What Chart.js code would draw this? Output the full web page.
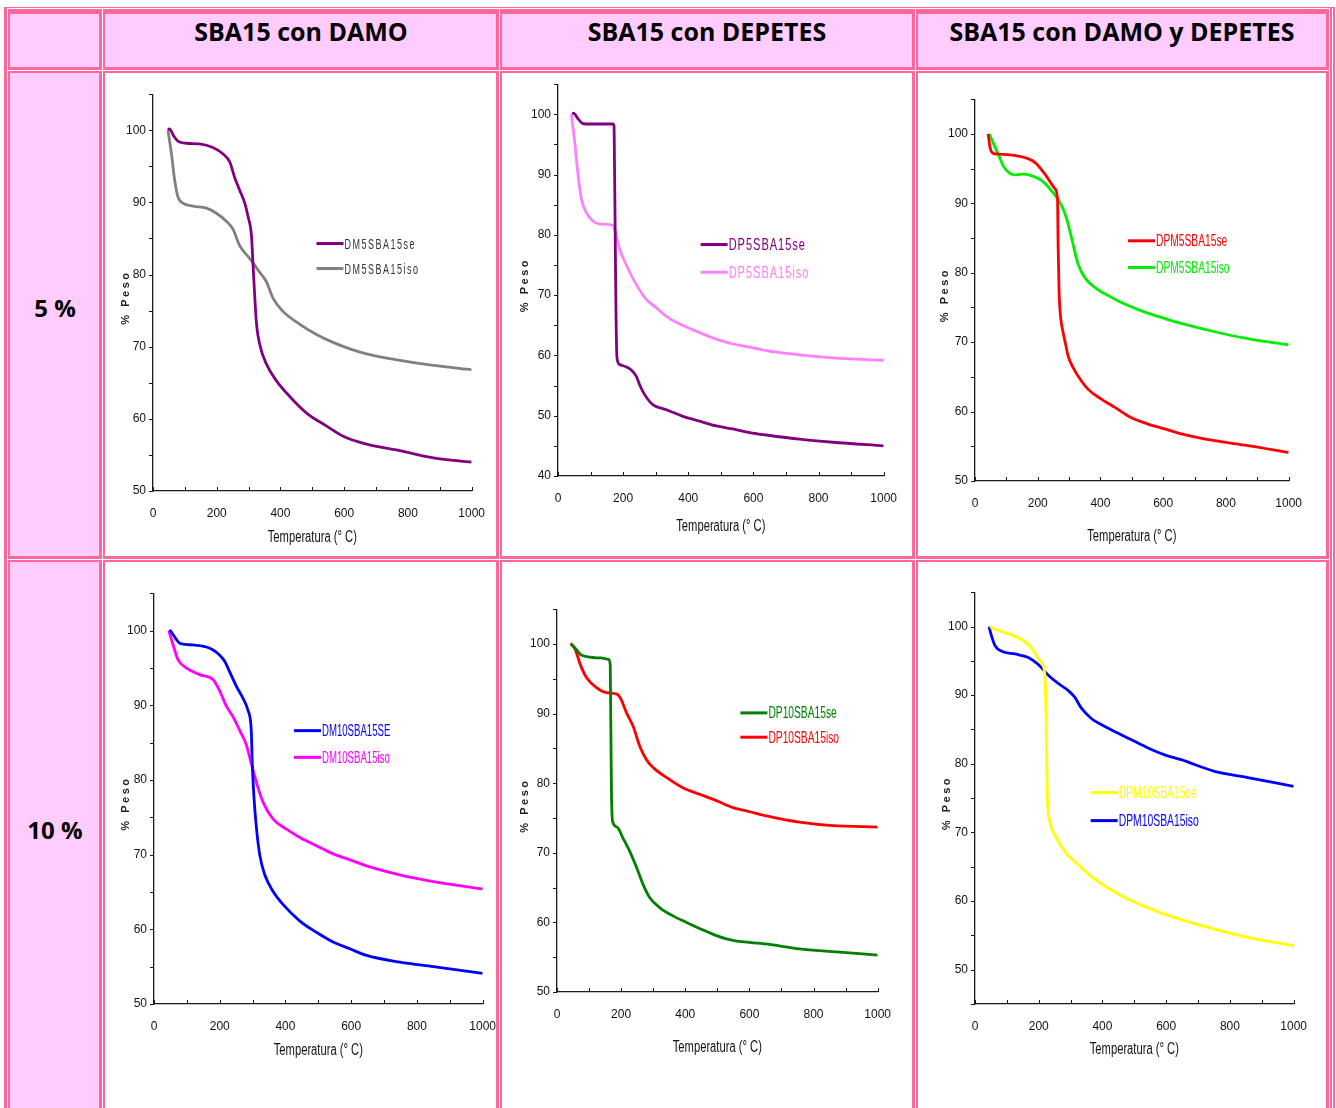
<!DOCTYPE html>
<html>
<head>
<meta charset="utf-8">
<script src="https://cdn.jsdelivr.net/npm/chart.js@4.4.0/dist/chart.umd.min.js"></script>
<style>
  html, body { margin: 0; padding: 0; background: #fff; width: 1336px; height: 1108px; overflow: hidden; }
  #marco { position: absolute; left: 4px; top: 7px; width: 1331px; height: 1110px; background: #ff6699; }
  .celda { position: absolute; box-sizing: border-box; border-left: 1px solid #fff; border-top: 1px solid #fff; }
  .relleno { position: absolute; left: 2px; top: 2px; right: 3px; bottom: 3px; }
  .rosa { background: #ffccff; }
  .blanco { background: #fff; }
  .linea { position: absolute; background: #fff; }
  .titulo { position: absolute; font-family: "Open Sans", sans-serif; font-weight: 700; font-size: 25px; color: #000; text-align: center; line-height: 26px; height: 26px; }
  canvas { position: absolute; }
</style>
</head>
<body>
<div id="marco"></div>
<script>
// Temperatura (°C) y % Peso, por muestra
const t_dm5_se = [47, 52, 65, 78, 105, 146, 188, 220, 241, 256, 272, 288, 298, 309, 314, 319, 325, 335, 356, 387, 429, 482, 545, 597, 670, 775, 880, 1000];
const p_dm5_se = [100, 100.2, 99.2, 98.5, 98.2, 98.1, 97.6, 96.7, 95.6, 93.5, 91.7, 89.9, 88.1, 85.4, 81.3, 77.2, 73.1, 70.3, 67.6, 65.3, 63.1, 60.8, 59.0, 57.6, 56.5, 55.6, 54.6, 54.0];
const t_dm5_iso = [47, 58, 68, 78, 94, 126, 168, 199, 230, 251, 272, 304, 335, 356, 377, 408, 461, 513, 565, 618, 670, 775, 880, 1000];
const p_dm5_iso = [100, 96.7, 93.1, 90.8, 89.9, 89.5, 89.2, 88.5, 87.4, 86.3, 84.0, 82.2, 80.3, 79.0, 76.7, 74.9, 73.1, 71.7, 70.6, 69.7, 69.0, 68.1, 67.4, 66.8];

const t_dp5_se = [44, 48, 61, 75, 87, 128, 169, 172, 174, 176, 178, 181, 189, 210, 225, 241, 251, 266, 292, 333, 384, 435, 486, 537, 589, 640, 742, 844, 1000];
const p_dp5_se = [100, 100.2, 99.3, 98.5, 98.4, 98.4, 98.4, 98.1, 89.1, 78.2, 67.4, 59.7, 58.5, 58.1, 57.6, 56.5, 55.1, 53.5, 51.8, 51.0, 49.9, 49.1, 48.3, 47.8, 47.2, 46.8, 46.1, 45.6, 45.0];
const t_dp5_iso = [41, 51, 61, 72, 87, 107, 128, 169, 174, 189, 210, 241, 271, 302, 333, 374, 435, 486, 537, 589, 640, 742, 844, 1000];
const p_dp5_iso = [100, 95.6, 90.2, 85.9, 83.7, 82.3, 81.8, 81.6, 81.0, 77.7, 75.0, 71.7, 69.3, 67.9, 66.5, 65.2, 63.8, 62.7, 61.9, 61.4, 60.8, 60.1, 59.6, 59.2];

const t_dpm5_se = [42, 48, 58, 74, 127, 159, 191, 223, 244, 255, 263, 265, 268, 273, 280, 288, 297, 312, 329, 361, 403, 446, 499, 552, 605, 658, 764, 870, 1000];
const p_dpm5_se = [100, 98.0, 97.2, 97.1, 96.9, 96.6, 95.9, 94.2, 92.8, 92.1, 90.7, 84.0, 77.4, 73.6, 71.6, 69.9, 68.0, 66.4, 65.1, 63.2, 61.8, 60.6, 59.1, 58.2, 57.5, 56.8, 55.8, 55.1, 54.1];
const t_dpm5_iso = [45, 58, 74, 90, 111, 127, 149, 180, 212, 244, 276, 292, 308, 329, 350, 382, 425, 467, 531, 605, 658, 764, 870, 1000];
const p_dpm5_iso = [100, 98.7, 97.1, 95.4, 94.3, 94.1, 94.2, 94.0, 93.3, 91.8, 89.7, 87.8, 85.0, 81.2, 79.3, 77.9, 76.7, 75.7, 74.5, 73.4, 72.7, 71.5, 70.5, 69.6];

const t_dm10_se = [48, 62, 78, 109, 159, 180, 200, 215, 230, 250, 270, 286, 296, 299, 304, 312, 322, 337, 362, 393, 444, 494, 545, 596, 647, 748, 850, 1000];
const p_dm10_se = [100.1, 99.2, 98.3, 98.1, 97.8, 97.4, 96.7, 95.9, 94.5, 92.6, 91.0, 89.3, 86.6, 82.2, 77.8, 73.4, 69.9, 67.3, 65.1, 63.3, 61.1, 59.6, 58.3, 57.4, 56.5, 55.6, 55.0, 54.1];
const t_dm10_iso = [45, 58, 73, 98, 139, 180, 200, 220, 241, 261, 281, 296, 312, 332, 362, 403, 444, 494, 545, 596, 647, 748, 850, 1000];
const p_dm10_iso = [100, 98.1, 96.1, 95.0, 94.1, 93.4, 91.9, 89.9, 88.4, 86.6, 84.7, 82.2, 79.6, 77.0, 74.8, 73.4, 72.3, 71.2, 70.1, 69.3, 68.5, 67.3, 66.4, 65.4];

const t_dp10_se = [43, 57, 73, 93, 135, 161, 166, 168, 170, 174, 187, 207, 228, 249, 269, 290, 321, 363, 404, 446, 497, 549, 653, 756, 860, 1000];
const p_dp10_se = [100, 99.4, 98.5, 98.2, 98.0, 97.8, 97.0, 87.6, 78.2, 74.4, 73.7, 72.0, 70.1, 67.8, 65.4, 63.5, 62.1, 60.9, 60.0, 59.1, 58.1, 57.4, 56.9, 56.2, 55.8, 55.3];
const t_dp10_iso = [43, 57, 73, 93, 124, 155, 187, 197, 218, 238, 259, 280, 301, 342, 394, 446, 497, 549, 601, 653, 756, 860, 1000];
const p_dp10_iso = [100.1, 99.2, 97.0, 95.1, 93.7, 93.0, 92.8, 92.3, 90.0, 88.1, 85.2, 83.3, 82.2, 80.8, 79.3, 78.4, 77.5, 76.5, 75.9, 75.3, 74.4, 73.9, 73.7];

const t_dpm10_se = [47, 63, 94, 125, 146, 167, 188, 204, 219, 224, 227, 235, 251, 282, 324, 365, 418, 470, 543, 595, 647, 752, 856, 1000];
const p_dpm10_se = [100, 99.6, 99.1, 98.6, 98.1, 97.4, 96.2, 95.0, 93.1, 84.9, 75.3, 71.5, 69.6, 67.2, 65.3, 63.6, 61.9, 60.5, 59.0, 58.1, 57.3, 55.9, 54.7, 53.5];
const t_dpm10_iso = [44, 52, 63, 84, 125, 167, 198, 230, 261, 292, 313, 334, 365, 397, 438, 491, 543, 595, 647, 752, 856, 1000];
const p_dpm10_iso = [100, 98.6, 97.2, 96.4, 96.0, 95.5, 94.5, 92.9, 91.7, 90.7, 89.7, 88.1, 86.6, 85.7, 84.7, 83.5, 82.3, 81.3, 80.6, 78.9, 78.0, 76.7];

// textos de la tabla
const columnas = ['SBA15 con DAMO', 'SBA15 con DEPETES', 'SBA15 con DAMO y DEPETES'];
const filas = ['5 %', '10 %'];
const tituloX = 'Temperatura (° C)';
const tituloY = '% Peso';

// ---- tabla (bordes dobles rosas) ----
const colX = [7, 102, 499, 915, 1329];
const filaY = [8, 70, 559, 1125];
const marco = document.getElementById('marco');

for (let f = 0; f < 3; f++) {
    for (let c = 0; c < 4; c++) {
        const celda = document.createElement('div');
        celda.className = 'celda';
        celda.style.left = (colX[c] - 4) + 'px';
        celda.style.top = (filaY[f] - 7) + 'px';
        celda.style.width = (colX[c + 1] - colX[c]) + 'px';
        celda.style.height = (filaY[f + 1] - filaY[f]) + 'px';
        const relleno = document.createElement('div');
        relleno.className = 'relleno ' + ((f === 0 || c === 0) ? 'rosa' : 'blanco');
        if (f === 0) relleno.style.top = '5px';
        celda.appendChild(relleno);
        marco.appendChild(celda);
    }
}
[1329, 1332].forEach(x => {
    const l = document.createElement('div');
    l.className = 'linea';
    l.style.left = (x - 4) + 'px'; l.style.top = '1px'; l.style.width = '1px'; l.style.height = '1110px';
    marco.appendChild(l);
});

const centrosCol = [301, 707, 1122];
columnas.forEach((txt, i) => {
    const d = document.createElement('div');
    d.className = 'titulo';
    d.textContent = txt;
    d.style.left = (centrosCol[i] - 200) + 'px'; d.style.width = '400px'; d.style.top = '18px';
    document.body.appendChild(d);
});
const centrosFila = [308, 830];
filas.forEach((txt, i) => {
    const d = document.createElement('div');
    d.className = 'titulo';
    d.style.fontSize = '24px';
    d.textContent = txt;
    d.style.left = '5px'; d.style.width = '100px'; d.style.top = (centrosFila[i] - 13) + 'px';
    document.body.appendChild(d);
});

// ---- gráficas ----
const SANS = '"Liberation Sans", Arial, sans-serif';

// texto estrechado (la fuente original es condensada)
function textoAngosto(ctx, txt, x, y, size, stretch, spacing, align) {
    ctx.save();
    ctx.translate(x, y);
    ctx.scale(stretch, 1);
    ctx.font = size + 'px ' + SANS;
    ctx.letterSpacing = spacing || '0px';
    ctx.textAlign = align;
    ctx.textBaseline = 'middle';
    ctx.fillText(txt, 0, 0);
    ctx.restore();
}

// marcas de escala: x hacia dentro, y hacia fuera
const marcas = {
    id: 'marcas',
    afterDraw(chart) {
        const { ctx, chartArea, scales: { x, y } } = chart;
        ctx.save();
        ctx.strokeStyle = '#1a1a1a';
        ctx.lineWidth = 1;
        x.ticks.forEach(t => {
            const px = Math.round(x.getPixelForValue(t.value)) + 0.5;
            ctx.beginPath(); ctx.moveTo(px, chartArea.bottom); ctx.lineTo(px, chartArea.bottom - 4); ctx.stroke();
        });
        y.ticks.forEach(t => {
            const py = Math.round(y.getPixelForValue(t.value)) + 0.5;
            ctx.beginPath(); ctx.moveTo(chartArea.left, py); ctx.lineTo(chartArea.left - 4, py); ctx.stroke();
        });
        ctx.restore();
    }
};

// títulos de los ejes
const titulos = {
    id: 'titulos',
    afterDraw(chart, args, opts) {
        const { ctx, chartArea } = chart;
        ctx.fillStyle = '#111';
        textoAngosto(ctx, tituloX, (chartArea.left + chartArea.right) / 2, chartArea.bottom + opts.xOff,
            16, 0.7, '0px', 'center');
        ctx.save();
        ctx.translate(chartArea.left - opts.yOff, (chartArea.top + chartArea.bottom) / 2 + 5);
        ctx.rotate(-Math.PI / 2);
        ctx.fillStyle = '#222';
        ctx.font = 'bold 11px ' + SANS;
        ctx.letterSpacing = '2.5px';
        ctx.textAlign = 'center';
        ctx.textBaseline = 'middle';
        ctx.fillText(tituloY, 0, 0);
        ctx.restore();
    }
};

// leyenda dentro del área de trazado
const leyenda = {
    id: 'leyenda',
    afterDatasetsDraw(chart, args, opts) {
        const { ctx, scales: { x, y } } = chart;
        const x0 = x.getPixelForValue(opts.x);
        const y0 = y.getPixelForValue(opts.y);
        chart.data.datasets.forEach((ds, i) => {
            const yy = y0 + i * opts.gap;
            ctx.save();
            ctx.strokeStyle = ds.borderColor;
            ctx.lineWidth = 3;
            ctx.beginPath(); ctx.moveTo(x0, yy); ctx.lineTo(x0 + 27, yy); ctx.stroke();
            ctx.restore();
            ctx.fillStyle = opts.colores[i];
            textoAngosto(ctx, ds.label, x0 + 28, yy + 1, opts.size, opts.stretch, opts.spacing, 'left');
        });
    }
};

const graficas = [
    { area: [153, 88, 472, 491], yMin: 50, xTit: 47, yTit: 27,
      series: [
          { label: 'DM5SBA15se', t: t_dm5_se, p: p_dm5_se, color: '#800080' },
          { label: 'DM5SBA15iso', t: t_dm5_iso, p: p_dm5_iso, color: '#808080' }],
      leyenda: { x: 513, y: 84.3, gap: 25, size: 15, stretch: 0.6, spacing: '2.5px', colores: ['#333', '#333'] } },
    { area: [558, 78, 884, 476], yMin: 40, xTit: 51, yTit: 33,
      series: [
          { label: 'DP5SBA15se', t: t_dp5_se, p: p_dp5_se, color: '#800080' },
          { label: 'DP5SBA15iso', t: t_dp5_iso, p: p_dp5_iso, color: '#ff80ff' }],
      leyenda: { x: 438, y: 78.4, gap: 27.7, size: 17, stretch: 0.65, spacing: '1.5px', colores: ['#800080', '#ff80ff'] } },
    { area: [975, 93, 1289, 481], yMin: 50, xTit: 56, yTit: 30,
      series: [
          { label: 'DPM5SBA15se', t: t_dpm5_se, p: p_dpm5_se, color: '#ff0000' },
          { label: 'DPM5SBA15iso', t: t_dpm5_iso, p: p_dpm5_iso, color: '#00ee00' }],
      leyenda: { x: 488, y: 84.6, gap: 26.7, size: 16, stretch: 0.64, colores: ['#ff0000', '#00ee00'] } },
    { area: [154, 587, 483, 1004], yMin: 50, xTit: 47, yTit: 28,
      series: [
          { label: 'DM10SBA15SE', t: t_dm10_se, p: p_dm10_se, color: '#0000ff' },
          { label: 'DM10SBA15iso', t: t_dm10_iso, p: p_dm10_iso, color: '#ff00ff' }],
      leyenda: { x: 426, y: 86.6, gap: 26.7, size: 16, stretch: 0.6, colores: ['#0000ff', '#ff00ff'] } },
    { area: [557, 603, 878, 992], yMin: 50, xTit: 56, yTit: 32,
      series: [
          { label: 'DP10SBA15se', t: t_dp10_se, p: p_dp10_se, color: '#008000' },
          { label: 'DP10SBA15iso', t: t_dp10_iso, p: p_dp10_iso, color: '#ff0000' }],
      leyenda: { x: 572, y: 90.1, gap: 24.3, size: 16, stretch: 0.64, colores: ['#008000', '#ff0000'] } },
    { area: [975, 586, 1294, 1004], yMin: 45, xTit: 46, yTit: 28,
      series: [
          { label: 'DPM10SBA15se', t: t_dpm10_se, p: p_dpm10_se, color: '#ffff00' },
          { label: 'DPM10SBA15iso', t: t_dpm10_iso, p: p_dpm10_iso, color: '#0000ff' }],
      leyenda: { x: 363, y: 75.8, gap: 28, size: 17, stretch: 0.61, colores: ['#ffff00', '#0000ff'] } }
];

graficas.forEach(g => {
    const [l, t, r, b] = g.area;
    const padTop = 8, padRight = 28, yW = 40, xH = g.xTit + 14;
    const cv = document.createElement('canvas');
    cv.width = (r - l) + yW + padRight;
    cv.height = (b - t) + padTop + xH;
    cv.style.left = (l - yW) + 'px';
    cv.style.top = (t - padTop) + 'px';
    document.body.appendChild(cv);

    new Chart(cv, {
        type: 'line',
        data: {
            datasets: g.series.map(s => ({
                label: s.label,
                data: s.t.map((x, k) => ({ x: x, y: s.p[k] })),
                borderColor: s.color,
                borderWidth: 2.8,
                pointRadius: 0,
                cubicInterpolationMode: 'monotone',
                fill: false
            }))
        },
        options: {
            responsive: false,
            animation: false,
            events: [],
            layout: { padding: { left: 0, top: padTop, right: padRight, bottom: 0 } },
            plugins: {
                legend: { display: false },
                tooltip: { enabled: false },
                leyenda: g.leyenda,
                titulos: { xOff: g.xTit, yOff: g.yTit }
            },
            scales: {
                x: {
                    type: 'linear', min: 0, max: 1000,
                    grid: { display: false, drawTicks: false },
                    border: { color: '#1a1a1a', width: 1.3 },
                    ticks: {
                        stepSize: 100, autoSkip: false, maxRotation: 0, padding: 15,
                        color: '#111', font: { family: SANS, size: 12 },
                        callback: v => (v % 200 === 0 ? v : '')
                    },
                    afterFit: s => { s.height = xH; }
                },
                y: {
                    type: 'linear', min: g.yMin, max: 105,
                    grid: { display: false, drawTicks: false },
                    border: { color: '#1a1a1a', width: 1.3 },
                    ticks: {
                        stepSize: 5, autoSkip: false, padding: 7,
                        color: '#111', font: { family: SANS, size: 12 },
                        callback: v => (v % 10 === 0 ? v : '')
                    },
                    afterFit: s => { s.width = yW; }
                }
            }
        },
        plugins: [marcas, titulos, leyenda]
    });
});
</script>
</body>
</html>
